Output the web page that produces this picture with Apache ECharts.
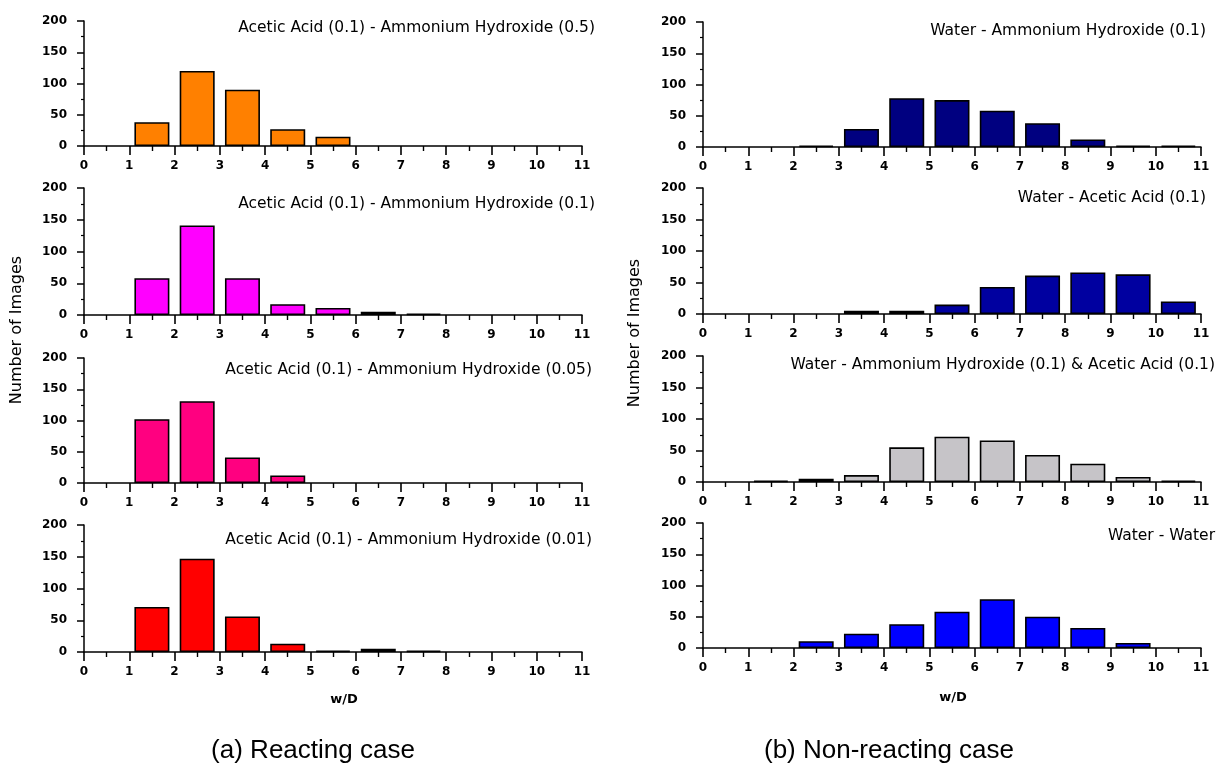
<!DOCTYPE html>
<html>
<head>
<meta charset="utf-8">
<script src="https://cdn.jsdelivr.net/npm/echarts@6/dist/echarts.min.js"></script>
<style>html,body{margin:0;padding:0;background:#fff}#c{width:1218px;height:766px}</style>
</head>
<body>
<div id="c"></div>
<script>
// bins: [0-1], [1-2], ..., [10-11]
const binStarts = [0,1,2,3,4,5,6,7,8,9,10];
const xTicks = [0,1,2,3,4,5,6,7,8,9,10,11];
const yTicks = [0,50,100,150,200];

const titleA1 = 'Acetic Acid (0.1) - Ammonium Hydroxide (0.5)';
const titleA2 = 'Acetic Acid (0.1) - Ammonium Hydroxide (0.1)';
const titleA3 = 'Acetic Acid (0.1) - Ammonium Hydroxide (0.05)';
const titleA4 = 'Acetic Acid (0.1) - Ammonium Hydroxide (0.01)';
const titleB1 = 'Water - Ammonium Hydroxide (0.1)';
const titleB2 = 'Water - Acetic Acid (0.1)';
const titleB3 = 'Water - Ammonium Hydroxide (0.1) & Acetic Acid (0.1)';
const titleB4 = 'Water - Water';

const countsA1 = [0,38,120,90,27,15,0,0,0,0,0];
const countsA2 = [0,58,141,58,17,11,5,2,0,0,0];
const countsA3 = [0,102,131,41,12,0,0,0,0,0,0];
const countsA4 = [0,71,147,56,13,2,5,2,0,0,0];
const countsB1 = [0,0,2,29,78,75,58,38,12,2,2];
const countsB2 = [0,0,0,5,5,15,43,61,66,63,20];
const countsB3 = [0,2,5,11,55,72,66,43,29,8,2];
const countsB4 = [0,0,11,23,38,58,78,50,32,8,0];

const yAxisName = 'Number of Images';
const xAxisName = 'w/D';
const captionA = '(a) Reacting case';
const captionB = '(b) Non-reacting case';

const panels = [
  {title: titleA1, counts: countsA1, color: '#FF8000', left: 84,  top: 21,  bottom: 146, titleRight: 623, titleY: 29},
  {title: titleA2, counts: countsA2, color: '#FF00FF', left: 84,  top: 188, bottom: 315, titleRight: 623, titleY: 205},
  {title: titleA3, counts: countsA3, color: '#FF0080', left: 84,  top: 358, bottom: 483, titleRight: 626, titleY: 371},
  {title: titleA4, counts: countsA4, color: '#FF0000', left: 84,  top: 525, bottom: 652, titleRight: 626, titleY: 541},
  {title: titleB1, counts: countsB1, color: '#000080', left: 703, top: 22,  bottom: 147, titleRight: 12,  titleY: 32},
  {title: titleB2, counts: countsB2, color: '#0000A0', left: 703, top: 188, bottom: 314, titleRight: 12,  titleY: 199},
  {title: titleB3, counts: countsB3, color: '#C6C4C8', left: 703, top: 356, bottom: 482, titleRight: 3,   titleY: 366},
  {title: titleB4, counts: countsB4, color: '#0000FF', left: 703, top: 523, bottom: 648, titleRight: 3,   titleY: 537}
];

const FONT = 'DejaVu Sans';
const grids = [], xAxes = [], yAxes = [], series = [], titles = [];
panels.forEach((p, i) => {
  grids.push({left: p.left, top: p.top, width: 498, height: p.bottom - p.top});
  xAxes.push({
    type: 'value', gridIndex: i, min: xTicks[0], max: xTicks[xTicks.length-1], interval: 1,
    axisLine: {onZero: false, lineStyle: {color: '#000', width: 1.5}},
    axisTick: {show: true, length: 9, lineStyle: {color: '#000', width: 1.6}},
    minorTick: {show: true, splitNumber: 2, length: 5, lineStyle: {color: '#000', width: 1.4}},
    splitLine: {show: false},
    axisLabel: {margin: 14, color: '#000', fontFamily: FONT, fontSize: 12, fontWeight: 'bold'}
  });
  yAxes.push({
    type: 'value', gridIndex: i, min: yTicks[0], max: yTicks[yTicks.length-1], interval: 50,
    axisLine: {show: true, lineStyle: {color: '#000', width: 1.5}},
    axisTick: {show: true, length: 7, lineStyle: {color: '#000', width: 1.5}},
    minorTick: {show: true, splitNumber: 2, length: 3, lineStyle: {color: '#000', width: 1.2}},
    splitLine: {show: false},
    axisLabel: {margin: 17, color: '#000', fontFamily: FONT, fontSize: 12, fontWeight: 'bold'}
  });
  series.push({
    type: 'bar', xAxisIndex: i, yAxisIndex: i, barWidth: 35,
    itemStyle: {color: p.color, borderColor: '#000', borderWidth: 1.6},
    data: binStarts.map((b, k) => p.counts[k] > 0 ? [b + 0.5, p.counts[k]] : null).filter(d => d),
    silent: true, animation: false
  });
  titles.push({
    text: p.title, right: p.titleRight, top: p.titleY - 9, padding: 0,
    textStyle: {fontFamily: FONT, fontSize: 15.5, fontWeight: 'normal', color: '#000'}
  });
});

const textStyle = (s, extra) => Object.assign({fill: '#000', fontFamily: FONT, textAlign: 'center', textVerticalAlign: 'middle'}, s, extra || {});

const chart = echarts.init(document.getElementById('c'), null, {renderer: 'canvas'});
chart.setOption({
  animation: false,
  backgroundColor: '#fff',
  title: titles,
  grid: grids,
  xAxis: xAxes,
  yAxis: yAxes,
  series: series,
  graphic: [
    {type: 'text', x: 17, y: 330, rotation: Math.PI / 2, style: textStyle({text: yAxisName, fontSize: 16})},
    {type: 'text', x: 635, y: 333, rotation: Math.PI / 2, style: textStyle({text: yAxisName, fontSize: 16})},
    {type: 'text', x: 344, y: 700, style: textStyle({text: xAxisName, fontSize: 13, fontWeight: 'bold'})},
    {type: 'text', x: 953, y: 698, style: textStyle({text: xAxisName, fontSize: 13, fontWeight: 'bold'})},
    {type: 'text', x: 313, y: 751, style: textStyle({text: captionA, fontSize: 26, fontFamily: 'Liberation Sans'})},
    {type: 'text', x: 889, y: 751, style: textStyle({text: captionB, fontSize: 26, fontFamily: 'Liberation Sans'})}
  ]
});
</script>
</body>
</html>
